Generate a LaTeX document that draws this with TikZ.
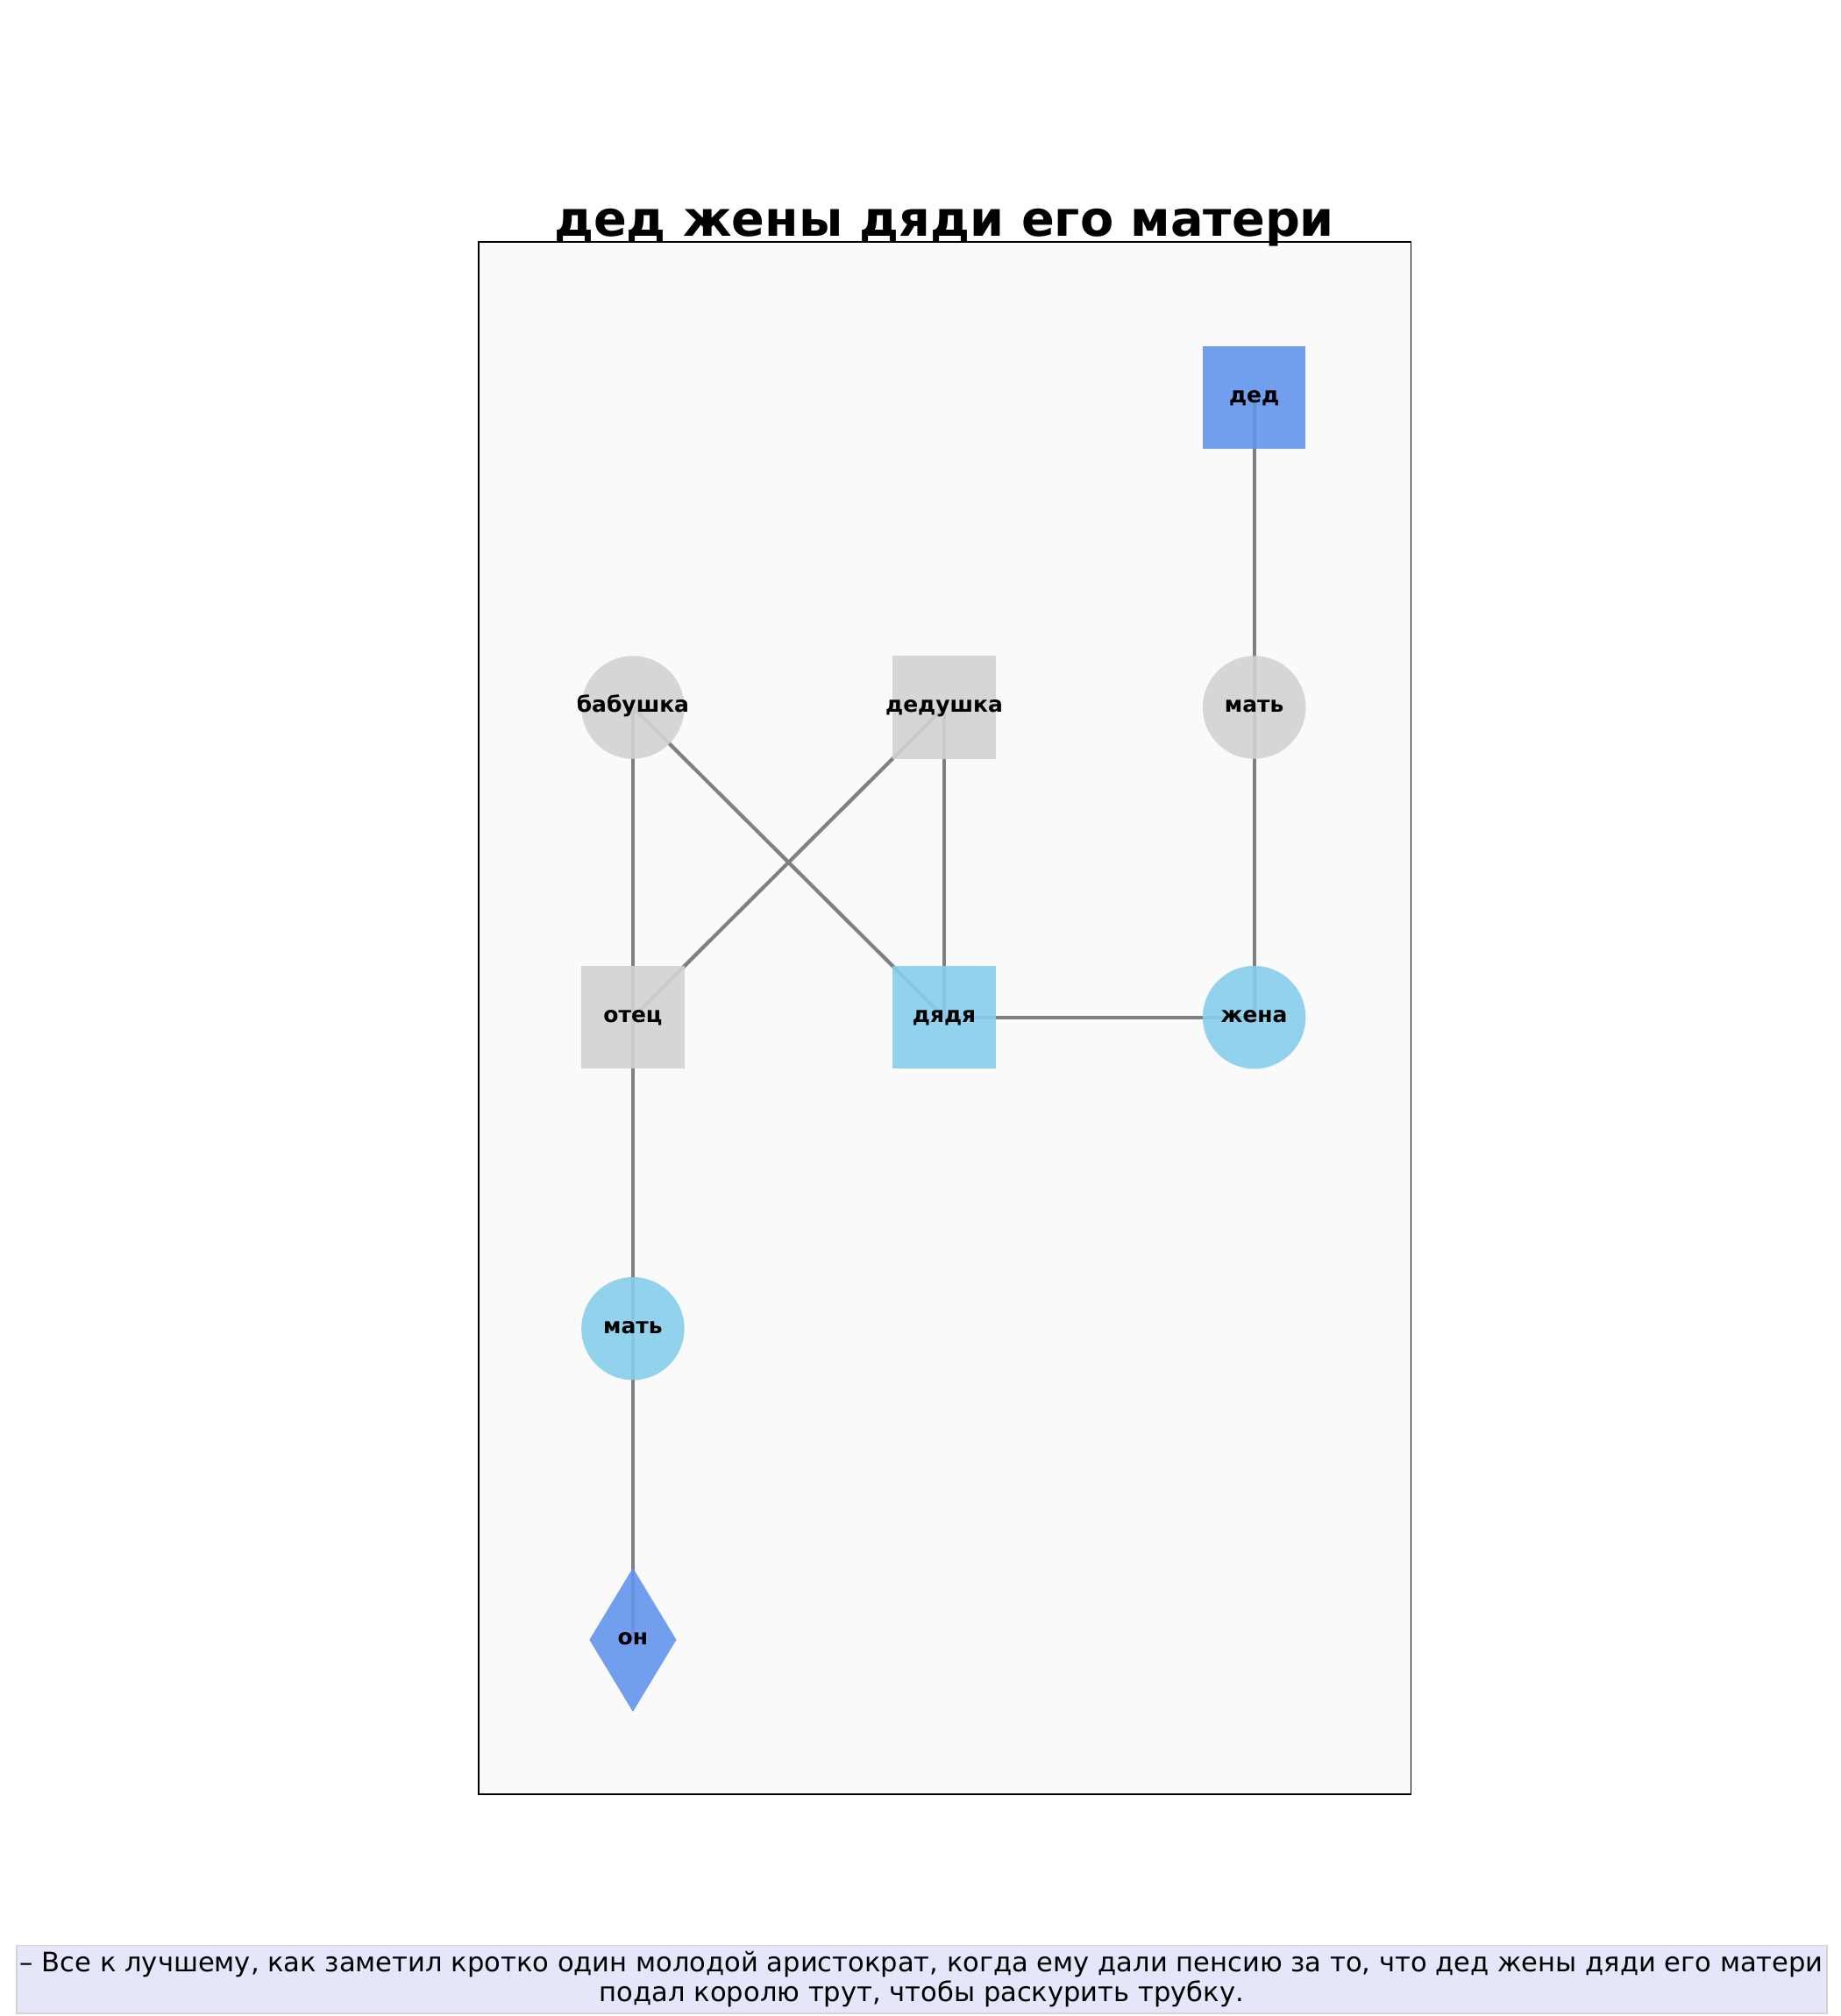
\documentclass[tikz,border=0pt]{standalone}
\usepackage{fontspec}
\setmainfont{DejaVu Sans}
\usetikzlibrary{shapes.geometric}
\pgfdeclarelayer{frame}
\pgfdeclarelayer{edges}
\pgfsetlayers{frame,edges,main}
\definecolor{cornflower}{RGB}{100,149,237}
\definecolor{sky}{RGB}{135,206,235}
\definecolor{lgray}{RGB}{211,211,211}
\definecolor{axbg}{RGB}{250,250,250}
\definecolor{lav}{RGB}{230,230,250}
\newcommand\who[1]{\makebox[0pt]{#1}}
\tikzset{
  person/.style={inner sep=0pt,minimum size=1.984cm,text height=1ex,text depth=0pt,fill opacity=0.9,text opacity=1,font=\bfseries\fontsize{12}{14}\selectfont},
  male/.style={person,rectangle},
  female/.style={person,circle},
  self/.style={person,diamond,minimum width=1.68cm,minimum height=2.78cm},
  link/.style={line width=2pt,gray},
}

\begin{document}
\begin{tikzpicture}[x=0.0248cm,y=-0.0248cm]
  \useasboundingbox (0,0) rectangle (1431,1567.5);
  \begin{pgfonlayer}{frame}
    \fill[white] (0,0) rectangle (1431,1567.5);
    \draw[line width=0.8pt,fill=axbg] (372,188) rectangle (1097,1395);
  \end{pgfonlayer}
  \node[font=\bfseries\fontsize{26.8}{30}\selectfont,anchor=base] (title) at (734,184) {дед жены дяди его матери};

  \node[male,fill=cornflower] (ded) at (975,309) {\who{дед}};
  \node[female,fill=lgray] (babushka) at (492,550) {\who{бабушка}};
  \node[male,fill=lgray] (dedushka) at (734,550) {\who{дедушка}};
  \node[female,fill=lgray] (mat1) at (975,550) {\who{мать}};
  \node[male,fill=lgray] (otec) at (492,791) {\who{отец}};
  \node[male,fill=sky] (dyadya) at (734,791) {\who{дядя}};
  \node[female,fill=sky] (zhena) at (975,791) {\who{жена}};
  \node[female,fill=sky] (mat2) at (492,1033) {\who{мать}};
  \node[self,fill=cornflower] (on) at (492,1275) {\who{он}};

  \begin{pgfonlayer}{edges}
    \draw[link] (ded.center) -- (mat1.center);
    \draw[link] (mat1.center) -- (zhena.center);
    \draw[link] (zhena.center) -- (dyadya.center);
    \draw[link] (babushka.center) -- (otec.center);
    \draw[link] (babushka.center) -- (dyadya.center);
    \draw[link] (dedushka.center) -- (otec.center);
    \draw[link] (dedushka.center) -- (dyadya.center);
    \draw[link] (otec.center) -- (mat2.center);
    \draw[link] (mat2.center) -- (on.center);
  \end{pgfonlayer}

  \node[fill=lav,draw=lgray,line width=0.8pt,minimum width=34.9cm,minimum height=1.31cm,inner sep=0pt,align=center,font=\fontsize{14.7}{16.5}\selectfont] (caption) at (716.5,1539) {– Все к лучшему, как заметил кротко один молодой аристократ, когда ему дали пенсию за то, что дед жены дяди его матери\\подал королю трут, чтобы раскурить трубку.};
\end{tikzpicture}
\end{document}
